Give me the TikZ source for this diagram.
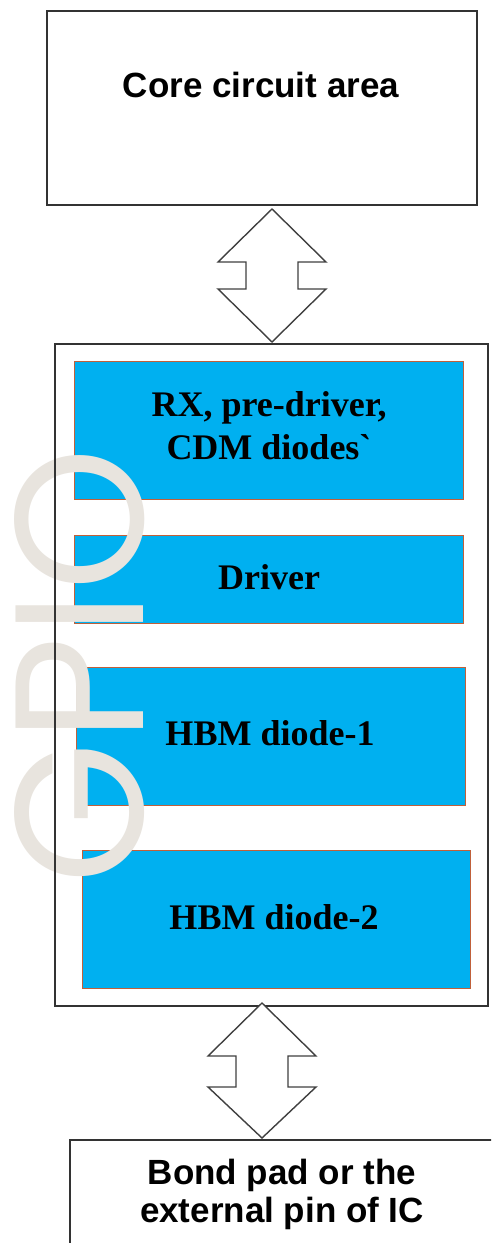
\documentclass[tikz,border=0pt]{standalone}
\usepackage{fontspec}
\setmainfont{Liberation Serif}[Ligatures=TeXOff]
\newfontfamily\arialfont{Liberation Sans}
\newfontfamily\gpiofont{Poppins}
\usetikzlibrary{calc}
\definecolor{bluefill}{HTML}{00B0F0}
\definecolor{brownedge}{HTML}{C0603A}
\definecolor{wmark}{HTML}{E8E4DE}
\definecolor{darkline}{HTML}{333333}
\definecolor{arrowline}{HTML}{404040}
\tikzset{
  plainbox/.style={draw=darkline, line width=1.5pt, fill=white, inner sep=0pt, anchor=north west},
  bluebox/.style={draw=brownedge, line width=1.3pt, fill=bluefill, inner sep=0pt, anchor=north west},
  sanslabel/.style={font=\arialfont\bfseries\fontsize{35}{38}\selectfont, align=center, inner sep=0pt},
  seriflabel/.style={font=\bfseries\fontsize{36}{43}\selectfont, align=center, inner sep=0pt},
  dblarrow/.style={draw=arrowline, line width=1.4pt, fill=white, line join=miter}
}
\begin{document}
\begin{tikzpicture}[x=1pt,y=-1pt]
\useasboundingbox (0,0) rectangle (491,1243);
\clip (0,0) rectangle (491,1243);
% core box
\node[plainbox, minimum width=430pt, minimum height=194pt] (core) at (46,10) {};
\node[sanslabel] (coretxt) at (261,85) {Core circuit area};
% top double arrow
\coordinate (a1t) at (272,209);
\coordinate (a1b) at (272,342);
\draw[dblarrow] (a1t) -- ($(a1t)+(54,53)$) -- ($(a1t)+(26,53)$) -- ($(a1b)+(26,-53)$) -- ($(a1b)+(54,-53)$) -- (a1b)
  -- ($(a1b)+(-54,-53)$) -- ($(a1b)+(-26,-53)$) -- ($(a1t)+(-26,53)$) -- ($(a1t)+(-54,53)$) -- cycle;
% GPIO box fill
\fill[white] (54,343) rectangle (487,1005);
% blue boxes
\node[bluebox, minimum width=389pt, minimum height=138pt] (rx) at (74,361) {};
\node[seriflabel] (rxtxt) at (269,426) {RX, pre-driver,\\CDM diodes`};
\node[bluebox, minimum width=389pt, minimum height=88pt] (drv) at (74,535) {};
\node[seriflabel] (drvtxt) at (269,577) {Driver};
\node[bluebox, minimum width=389pt, minimum height=138pt] (hbm1) at (76,667) {};
\node[seriflabel] (hbm1txt) at (270,733) {HBM diode-1};
\node[bluebox, minimum width=388pt, minimum height=138pt] (hbm2) at (82,850) {};
\node[seriflabel] (hbm2txt) at (274,917) {HBM diode-2};
% watermark
\node[rotate=90, anchor=base, inner sep=0pt, text=wmark, font=\gpiofont\fontsize{183}{183}\selectfont] (gpio) at (143,666) {GPIO};
% GPIO border on top
\node[draw=darkline, line width=1.5pt, inner sep=0pt, anchor=north west, minimum width=433pt, minimum height=662pt] (gpiobox) at (54,343) {};
% bottom double arrow
\coordinate (a2t) at (262,1003);
\coordinate (a2b) at (262,1138);
\draw[dblarrow] (a2t) -- ($(a2t)+(54,53)$) -- ($(a2t)+(26,53)$) -- ($(a2b)+(26,-51)$) -- ($(a2b)+(54,-51)$) -- (a2b)
  -- ($(a2b)+(-54,-51)$) -- ($(a2b)+(-26,-51)$) -- ($(a2t)+(-26,53)$) -- ($(a2t)+(-54,53)$) -- cycle;
% bond pad box
\node[plainbox, minimum width=430pt, minimum height=130pt] (pad) at (69,1139) {};
\node[sanslabel] (padtxt) at (282,1194) {Bond pad or the\\external pin of IC};
\end{tikzpicture}
\end{document}
